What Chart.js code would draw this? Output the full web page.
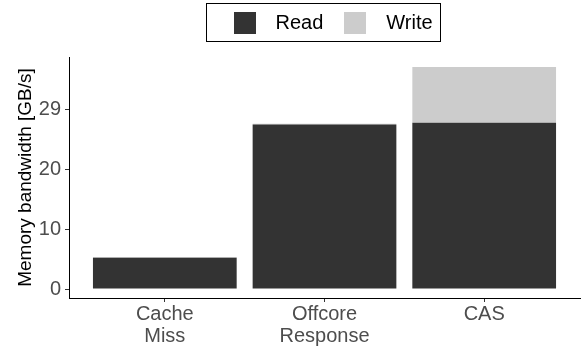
<!DOCTYPE html>
<html>
<head>
<meta charset="utf-8">
<script src="https://cdn.jsdelivr.net/npm/chart.js@4.4.0/dist/chart.umd.min.js"></script>
<style>
  html, body { margin: 0; padding: 0; background: #ffffff; }
  canvas { display: block; }
</style>
</head>
<body>
<canvas id="bw" width="584" height="351"></canvas>
<script>
// Memory bandwidth measured by three counting methods (GB/s)
const categories = [['Cache', 'Miss'], ['Offcore', 'Response'], ['CAS']];
const readGBs = [5.2, 27.4, 27.7];
const writeGBs = [0.15, 0.15, 9.3];
const seriesNames = ['Read', 'Write'];
const seriesColors = ['#333333', '#cccccc'];
const yTickValues = [0, 10, 20, 30];
const yTickLabels = ['0', '10', '20', '29'];

const FONT = "'Liberation Sans', Arial, Helvetica, sans-serif";

// Categories sit at x = 1, 2, 3 on a linear axis
const toPoints = vals => vals.map((v, i) => ({ x: i + 1, y: v }));

// Boxed legend across the top
const boxedLegend = {
  id: 'boxedLegend',
  afterDraw(chart) {
    const ctx = chart.ctx;
    const area = chart.chartArea;
    const key = 22, keyGap = 20, itemGap = 21, padL = 27, padR = 8;
    const boxTop = 3, boxH = 38;
    ctx.save();
    ctx.font = '20px ' + FONT;
    const widths = chart.data.datasets.map(d => ctx.measureText(d.label).width);
    let total = padL + padR;
    widths.forEach((w, i) => { total += key + keyGap + w + (i < widths.length - 1 ? itemGap : 0); });
    const left = Math.round((area.left + area.right) / 2 - total / 2 - 1) + 0.5;
    ctx.strokeStyle = '#000000';
    ctx.lineWidth = 1;
    ctx.strokeRect(left, boxTop + 0.5, Math.round(total), boxH);
    const cy = boxTop + boxH / 2 + 1;
    let x = left + padL;
    chart.data.datasets.forEach((d, i) => {
      ctx.fillStyle = d.backgroundColor;
      ctx.fillRect(Math.round(x), cy - key / 2, key, key);
      x += key + keyGap;
      ctx.fillStyle = '#000000';
      ctx.textBaseline = 'middle';
      ctx.textAlign = 'left';
      ctx.fillText(d.label, x, cy);
      x += widths[i] + itemGap;
    });
    ctx.restore();
  }
};

new Chart(document.getElementById('bw'), {
  type: 'bar',
  data: {
    datasets: [
      { label: seriesNames[0], data: toPoints(readGBs), backgroundColor: seriesColors[0] },
      { label: seriesNames[1], data: toPoints(writeGBs), backgroundColor: seriesColors[1] }
    ]
  },
  options: {
    responsive: false,
    animation: false,
    devicePixelRatio: 1,
    layout: { padding: { top: 57, right: 4, left: 0, bottom: 0 } },
    datasets: { bar: { categoryPercentage: 1, barPercentage: 0.9, borderWidth: 0 } },
    plugins: { legend: { display: false }, tooltip: { enabled: false } },
    scales: {
      x: {
        type: 'linear',
        stacked: true,
        offset: false,
        min: 0.4,
        max: 3.6,
        afterBuildTicks: s => { s.ticks = categories.map((c, i) => ({ value: i + 1 })); },
        afterFit: s => { s.height = 53; },
        grid: { offset: false, drawOnChartArea: false, drawTicks: true, tickLength: 4, color: '#333333' },
        border: { display: true, color: '#000000', width: 1 },
        ticks: {
          padding: 1,
          color: '#4d4d4d',
          font: { family: FONT, size: 20, lineHeight: 1.1 },
          maxRotation: 0,
          callback: v => categories[Math.round(v) - 1]
        }
      },
      y: {
        stacked: true,
        min: -1.5,
        max: 38.67,
        afterBuildTicks: s => { s.ticks = yTickValues.map(v => ({ value: v })); },
        afterFit: s => { s.width = 69; },
        grid: { drawOnChartArea: false, drawTicks: true, tickLength: 4, color: '#333333' },
        border: { display: true, color: '#000000', width: 1 },
        ticks: {
          padding: 4,
          color: '#4d4d4d',
          font: { family: FONT, size: 20 },
          callback: v => yTickLabels[yTickValues.indexOf(v)]
        },
        title: {
          display: true,
          text: 'Memory bandwidth [GB/s]',
          color: '#000000',
          font: { family: FONT, size: 19 },
          padding: { top: 14, bottom: 0 }
        }
      }
    }
  },
  plugins: [boxedLegend]
});
</script>
</body>
</html>
